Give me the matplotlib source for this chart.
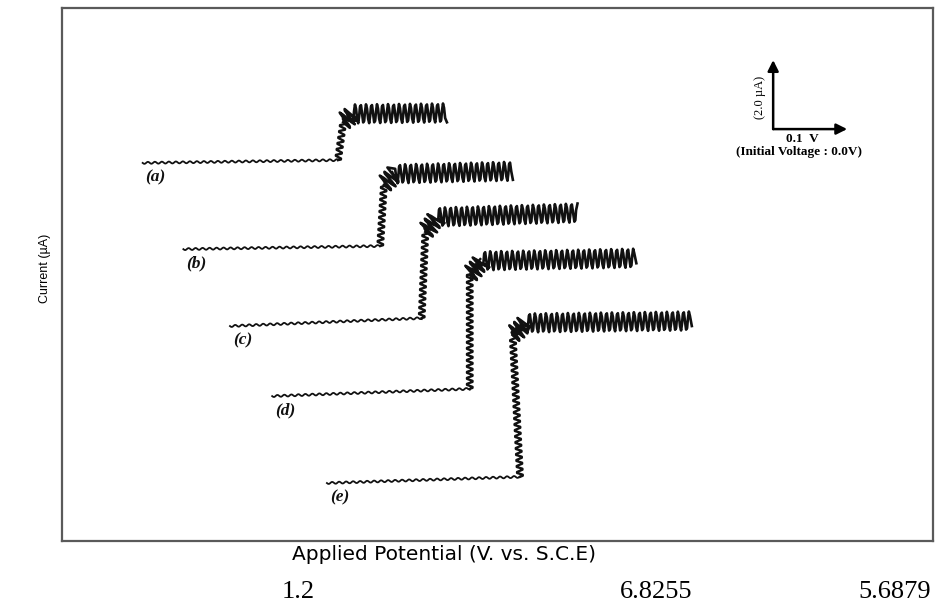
import matplotlib
matplotlib.use("Agg")
import matplotlib.pyplot as plt

# polarogram outlines (potential in V, current in uA)
labels = ["(a)", "(b)", "(c)", "(d)", "(e)"]
start_v = [0.109, 0.164, 0.227, 0.284, 0.358]
start_i = [10.96, 8.46, 6.23, 4.20, 1.68]
foot_v = [0.373, 0.430, 0.486, 0.551, 0.619]
foot_i = [11.04, 8.55, 6.46, 4.41, 1.86]
knee_v = [0.380, 0.435, 0.491, 0.551, 0.609]
knee_i = [12.14, 10.32, 8.96, 7.71, 5.97]
bend_v = [0.392, 0.449, 0.507, 0.568, 0.627]
bend_i = [12.38, 10.64, 9.39, 8.12, 6.32]
end_v = [0.520, 0.609, 0.697, 0.776, 0.851]
plateau_i = [12.41, 10.72, 9.51, 8.20, 6.38]

# scale bar
bar_v0, bar_i0 = 0.961, 11.94
bar_dv, bar_di = 0.1, 2.0

# numbers printed below the figure
footer_values = ["1.2", "6.8255", "5.6879"]
footer_x = [298, 656, 895]

W, H = 938, 605
fig = plt.figure(figsize=(W / 100, H / 100), dpi=100)
ax = fig.add_axes([62 / W, (H - 541) / H, (933 - 62) / W, (541 - 8) / H])
ax.set_xlim(0, 1.177)
ax.set_ylim(0, 15.45)
ax.set_xticks([])
ax.set_yticks([])
for s in ax.spines.values():
    s.set_color("#5a5a5a")
    s.set_linewidth(1.6)

ink = "#111111"
for k in range(len(labels)):
    # baseline (small ripple)
    ln, = ax.plot([start_v[k], foot_v[k]], [start_i[k], foot_i[k]],
                  color=ink, lw=1.3)
    ln.set_sketch_params(1.0, 7, 1)
    # rising part
    ln, = ax.plot([foot_v[k], knee_v[k], bend_v[k]],
                  [foot_i[k], knee_i[k], bend_i[k]], color=ink, lw=1.7)
    ln.set_sketch_params(3.2, 6, 1)
    # limiting current plateau (big drop oscillations)
    ln, = ax.plot([knee_v[k], bend_v[k], end_v[k]],
                  [knee_i[k], bend_i[k], plateau_i[k]], color=ink, lw=1.9)
    ln.set_sketch_params(9.5, 5.5, 1)
    ax.annotate(labels[k], (start_v[k], start_i[k]), xytext=(13, -14),
                textcoords="offset pixels", ha="center", va="center",
                family="Liberation Serif", style="italic", fontweight="bold",
                fontsize=12.5, color=ink)

# scale bar arrows
arrow = dict(arrowstyle="-|>", color="black", lw=1.8, mutation_scale=16,
             shrinkA=0, shrinkB=0)
ax.annotate("", (bar_v0, bar_i0 + bar_di), (bar_v0, bar_i0),
            arrowprops=arrow)
ax.annotate("", (bar_v0 + bar_dv, bar_i0), (bar_v0, bar_i0),
            arrowprops=arrow)
ax.text(0.943, 12.87, "(2.0 µA)", rotation=90,
        ha="center", va="center", family="Liberation Serif", fontsize=9)
ax.text(1.001, 11.66, "0.1  V", ha="center", va="center",
        family="Liberation Serif", fontweight="bold", fontsize=9.5)
ax.text(0.996, 11.28, "(Initial Voltage : 0.0V)",
        ha="center", va="center", family="Liberation Serif",
        fontweight="bold", fontsize=9.5)

fig.text(45 / W, 1 - 268 / H, "Current (µA)", rotation=90, ha="center",
         va="center", family="Liberation Sans", fontsize=9)
fig.text(444 / W, 1 - 554 / H, "Applied Potential (V. vs. S.C.E)",
         ha="center", va="center", family="DejaVu Sans", fontsize=14.5)
for txt, x in zip(footer_values, footer_x):
    fig.text(x / W, 1 - 592 / H, txt, ha="center", va="center",
             family="Liberation Serif", fontsize=19)

fig.savefig("out.png", dpi=100)
